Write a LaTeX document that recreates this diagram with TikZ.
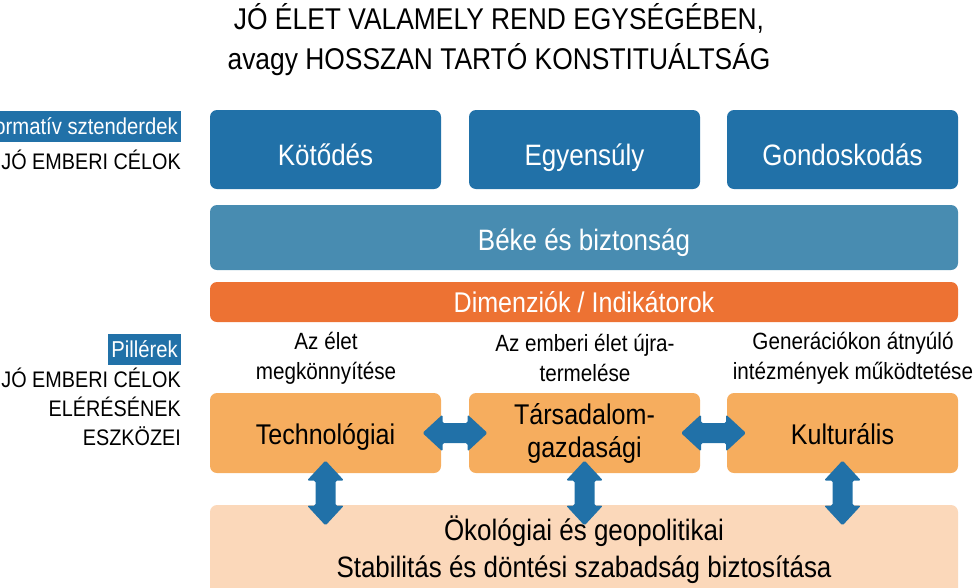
\documentclass[tikz,border=0pt]{standalone}
\usepackage{fontspec}
\setmainfont{Liberation Sans}[FakeStretch=0.88]
\usetikzlibrary{calc}
\definecolor{darkblue}{RGB}{33,113,168}
\definecolor{midblue}{RGB}{72,140,177}
\definecolor{deeporange}{RGB}{237,114,51}
\definecolor{lightorange}{RGB}{246,173,94}
\definecolor{peach}{RGB}{251,216,186}

\begin{document}
\begin{tikzpicture}[x=1pt, y=-1pt,
        single/.style = {text height=#1, text depth=0pt},
        goal/.style = {fill=darkblue, text=white, rounded corners=7pt, inner sep=0pt, minimum width=231pt, minimum height=79pt, single=31pt, font=\fontsize{29.5}{34}\selectfont},
        band/.style = {text=white, rounded corners=7pt, inner sep=0pt, minimum width=748pt, font=\fontsize{29.5}{34}\selectfont},
        pillar/.style = {fill=lightorange, text=black, rounded corners=7pt, inner sep=0pt, minimum width=231pt, minimum height=80pt, align=center, font=\fontsize{28.5}{33}\selectfont},
        aim/.style = {align=center, inner sep=0pt, font=\fontsize{23.5}{30}\selectfont},
        tag/.style = {fill=darkblue, text=white, inner xsep=3pt, inner ysep=0pt, minimum height=31pt, font=\fontsize{23}{26}\selectfont},
        side/.style = {align=right, inner sep=0pt, font=\fontsize{22.5}{29}\selectfont},
        link/.pic = {\fill[darkblue, rounded corners=1.5pt] (-32.5,0) -- (-12.5,-18.5) -- (-12.5,-10) -- (12.5,-10) -- (12.5,-18.5) -- (32.5,0) -- (12.5,18.5) -- (12.5,10) -- (-12.5,10) -- (-12.5,18.5) -- cycle;}]
    \useasboundingbox (0,0) rectangle (977,587);
    \clip (0,0) rectangle (977,587);

    \node[align=center, inner sep=0pt, font=\fontsize{30}{40}\selectfont] (title) at (499,40) {JÓ ÉLET VALAMELY REND EGYSÉGÉBEN,\\avagy HOSSZAN TARTÓ KONSTITUÁLTSÁG};

    \node[goal] (kot) at (325.5,149.5) {Kötődés};
    \node[goal] (egy) at (584.5,149.5) {Egyensúly};
    \node[goal] (gon) at (842.5,149.5) {Gondoskodás};
    \node[band, fill=midblue, minimum height=65pt, single=25pt] (beke) at (584,237.5) {Béke és biztonság};
    \node[band, fill=deeporange, minimum height=40pt, single=20pt, font=\fontsize{28.5}{33}\selectfont] (dim) at (584,302) {Dimenziók / Indikátorok};

    \node[aim] (l1) at (326,358) {Az élet\\megkönnyítése};
    \node[aim] (l2) at (585,358) {Az emberi élet újra-\\termelése};
    \node[aim] (l3) at (853,358) {Generációkon átnyúló\\intézmények működtetése};

    \node[pillar, single=22pt] (tech) at (325.5,433) {Technológiai};
    \node[pillar] (soc) at (584.5,433) {Társadalom-\\gazdasági};
    \node[pillar, single=22pt] (kult) at (842.5,433) {Kulturális};
    \node[fill=peach, rounded corners=7pt, inner sep=0pt, minimum width=748pt, minimum height=90pt, align=center, font=\fontsize{29.5}{37}\selectfont] (base) at (584,550) {Ökológiai és geopolitikai\\Stabilitás és döntési szabadság biztosítása};

    \coordinate (h1) at ($(tech.east)!0.5!(soc.west)$);
    \coordinate (h2) at ($(soc.east)!0.5!(kult.west)$);
    \coordinate (v1) at ($(tech.south)!0.5!(tech.south |- base.north)+(0,4)$);
    \coordinate (v2) at ($(soc.south)!0.5!(soc.south |- base.north)+(0,4)$);
    \coordinate (v3) at ($(kult.south)!0.5!(kult.south |- base.north)+(0,4)$);
    \pic at (h1) {link};
    \pic at (h2) {link};
    \foreach \v in {v1,v2,v3}
        \pic[rotate=90] at (\v) {link};

    \node[tag, anchor=east] (norm) at (181,126.5) {Normatív sztenderdek};
    \node[side, anchor=east] (celok) at (181,160) {JÓ EMBERI CÉLOK};
    \node[tag, anchor=east] (pill) at (181,349.5) {Pillérek};
    \node[side, anchor=north east] (eszk) at (181,368) {JÓ EMBERI CÉLOK\\ELÉRÉSÉNEK\\ESZKÖZEI};
\end{tikzpicture}
\end{document}
